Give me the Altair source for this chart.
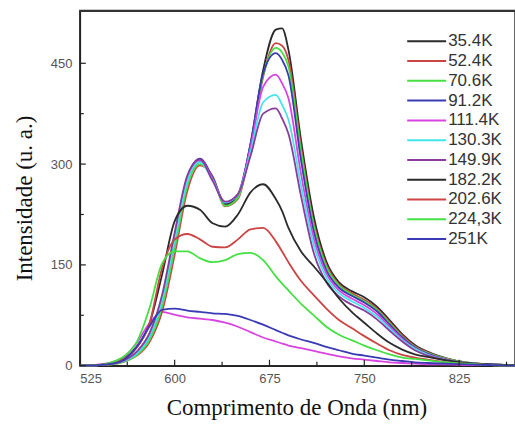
import altair as alt
import pandas as pd

# wavelength grid (nm)
W = [525, 540, 550, 560, 570, 580, 590, 600, 610, 620, 630, 640, 650, 660, 670, 680, 685,
     690, 700, 710, 720, 730, 740, 750, 760, 770, 780, 790, 800, 815, 830, 850, 870]

names = ["35.4K", "52.4K", "70.6K", "91.2K", "111.4K", "130.3K", "149.9K",
         "182.2K", "202.6K", "224,3K", "251K"]
colors = ["#2b2b2b", "#cc4444", "#44e044", "#3a3ab4", "#d844e0", "#44e4ec", "#8a3c9c",
          "#2b2b2b", "#cc4444", "#44e044", "#3a3ab4"]

s35_4 = [0, 1, 3, 7, 18, 42, 95, 185, 272, 303, 280, 240, 252, 330, 440, 500, 502,
         470, 335, 222, 155, 124, 111, 102, 88, 68, 47, 31, 21, 11, 5, 2, 1]
s52_4 = [0, 1, 2, 6, 15, 35, 80, 165, 260, 298, 282, 237, 248, 325, 430, 480, 476,
         455, 325, 212, 150, 121, 108, 98, 85, 65, 45, 29, 20, 10, 5, 2, 1]
s70_6 = [0, 1, 2, 6, 16, 38, 88, 175, 268, 300, 280, 238, 250, 328, 432, 473, 466,
         445, 318, 208, 147, 119, 106, 96, 83, 63, 43, 28, 19, 10, 5, 2, 1]
s91_2 = [0, 1, 3, 7, 19, 45, 100, 192, 280, 308, 280, 242, 255, 330, 435, 465, 455,
         432, 305, 200, 142, 116, 104, 94, 81, 61, 42, 27, 18, 9, 4, 2, 1]
s111_4 = [0, 1, 3, 7, 19, 45, 100, 190, 278, 306, 278, 243, 255, 325, 415, 433, 420,
          398, 285, 190, 137, 112, 100, 90, 77, 58, 40, 26, 17, 9, 4, 2, 1]
s130_3 = [0, 1, 3, 7, 18, 43, 96, 186, 274, 303, 276, 243, 254, 318, 392, 403, 388,
          366, 268, 180, 131, 108, 96, 86, 73, 55, 38, 25, 16, 8, 4, 2, 1]
s149_9 = [0, 1, 3, 8, 21, 48, 105, 198, 283, 307, 275, 244, 255, 312, 375, 383, 368,
          345, 252, 168, 124, 103, 91, 82, 69, 52, 36, 23, 15, 8, 4, 2, 1]
s182_2 = [0, 1, 4, 10, 28, 62, 135, 215, 238, 232, 212, 207, 225, 258, 270, 248, 230,
          205, 170, 148, 125, 100, 80, 64, 48, 34, 24, 17, 13, 8, 4, 2, 1]
s202_6 = [0, 1, 4, 10, 27, 62, 145, 188, 196, 188, 177, 176, 188, 203, 205, 185, 170,
          154, 126, 105, 85, 68, 56, 44, 33, 23, 16, 12, 9, 5, 3, 1, 0]
s224_3 = [0, 1, 5, 14, 35, 85, 152, 170, 170, 160, 154, 157, 166, 168, 157, 133, 122,
          112, 92, 75, 58, 46, 38, 30, 23, 17, 12, 10, 8, 5, 3, 1, 0]
s251 = [0, 1, 3, 9, 28, 58, 83, 85, 82, 80, 78, 77, 74, 68, 61, 53, 49,
        45, 39, 34, 28, 23, 18, 15, 12, 9, 7, 5, 4, 3, 2, 1, 0]
# extra (unlabelled) lowest curve
s_extra = [0, 2, 5, 13, 34, 63, 80, 76, 72, 70, 68, 64, 58, 50, 42, 36, 33,
           30, 26, 22, 18, 14, 11, 9, 7, 5, 4, 3, 2, 2, 1, 1, 0]

series = [s35_4, s52_4, s70_6, s91_2, s111_4, s130_3, s149_9, s182_2, s202_6, s224_3, s251]

x_major = [525, 600, 675, 750, 825]
x_minor = [562.5, 637.5, 712.5, 787.5, 862.5]
y_major = [0, 150, 300, 450]
y_minor = [75, 225, 375]

PW, PH = 436, 356
XD = [525, 869.2]
YD = [0, 528.7]

rows = []
for n, vals in zip(names, series):
    for w, v in zip(W, vals):
        rows.append({"w": w, "v": v, "s": n})
df = pd.DataFrame(rows)
df_extra = pd.DataFrame({"w": W, "v": s_extra})

xs = alt.Scale(domain=XD, nice=False, zero=False)
ys = alt.Scale(domain=YD, nice=False, zero=True)
cs = alt.Scale(domain=names, range=colors)

lab_font = "Liberation Sans"
ttl_font = "Liberation Serif"

x_axis = alt.Axis(values=x_major, ticks=False, grid=False, labelFont=lab_font,
                  labelFontSize=13, labelColor="#555", labelPadding=7,
                  domainColor="#222", domainWidth=1.5,
                  title="Comprimento de Onda (nm)", titleFont=ttl_font,
                  titleFontSize=23, titleFontWeight="normal", titleColor="#111",
                  titleX=217, titleY=42, titleAlign="center", titleBaseline="middle")
y_axis = alt.Axis(values=y_major, ticks=False, grid=False, labelFont=lab_font,
                  labelFontSize=13, labelColor="#555", labelPadding=8,
                  domainColor="#222", domainWidth=1.5,
                  title="Intensidade (u. a.)", titleFont=ttl_font,
                  titleFontSize=23, titleFontWeight="normal", titleColor="#111",
                  titleX=-55, titleY=188, titleAngle=-90, titleAlign="center",
                  titleBaseline="middle")

X = alt.X("w:Q", scale=xs, axis=x_axis, title="Comprimento de Onda (nm)")
Y = alt.Y("v:Q", scale=ys, axis=y_axis, title="Intensidade (u. a.)")

extra = alt.Chart(df_extra).mark_line(interpolate="monotone", strokeWidth=1.8,
                                      color="#d844e0").encode(x=X, y=Y)

lines = alt.Chart(df).mark_line(interpolate="monotone", strokeWidth=1.8).encode(
    x=X, y=Y,
    color=alt.Color("s:N", scale=cs, legend=None),
    order=alt.Order("w:Q"),
)

def xticks(vals, ln):
    return alt.Chart(pd.DataFrame({"w": vals})).mark_rule(color="#222", strokeWidth=1.2).encode(
        x=X, y=alt.value(PH), y2=alt.value(PH - ln))

def yticks(vals, ln):
    return alt.Chart(pd.DataFrame({"v": vals})).mark_rule(color="#222", strokeWidth=1.2).encode(
        y=Y, x=alt.value(0), x2=alt.value(ln))

# top edge of the plot frame
top_edge = alt.Chart(pd.DataFrame({"a": [0]})).mark_rule(
    color="#333", strokeWidth=2).encode(
    x=alt.value(0), x2=alt.value(PW), y=alt.value(0.5))

# legend: one line + label per series
legend_layers = []
for i, n in enumerate(names):
    ypos = 31 + 19.8 * i
    d = pd.DataFrame({"s": [n]})
    legend_layers.append(
        alt.Chart(d).mark_rule(strokeWidth=2).encode(
            x=alt.value(328), x2=alt.value(367), y=alt.value(ypos),
            color=alt.Color("s:N", scale=cs, legend=None)))
    legend_layers.append(
        alt.Chart(d).mark_text(align="left", baseline="middle", font=lab_font,
                               fontSize=17, color="#333").encode(
            x=alt.value(369), y=alt.value(ypos), text="s:N"))

chart = alt.layer(
    extra, lines,
    xticks(x_major, 6), xticks(x_minor, 4), yticks(y_major, 6), yticks(y_minor, 4),
    *legend_layers, top_edge,
).properties(
    width=PW, height=PH,
    background="white",
    autosize=alt.AutoSizeParams(type="none"),
    padding={"left": 80, "top": 10, "right": 0, "bottom": 58},
).configure_view(stroke="#333", strokeWidth=1.5)

chart.save("out.html", embed_options={"renderer": "svg", "actions": False})
